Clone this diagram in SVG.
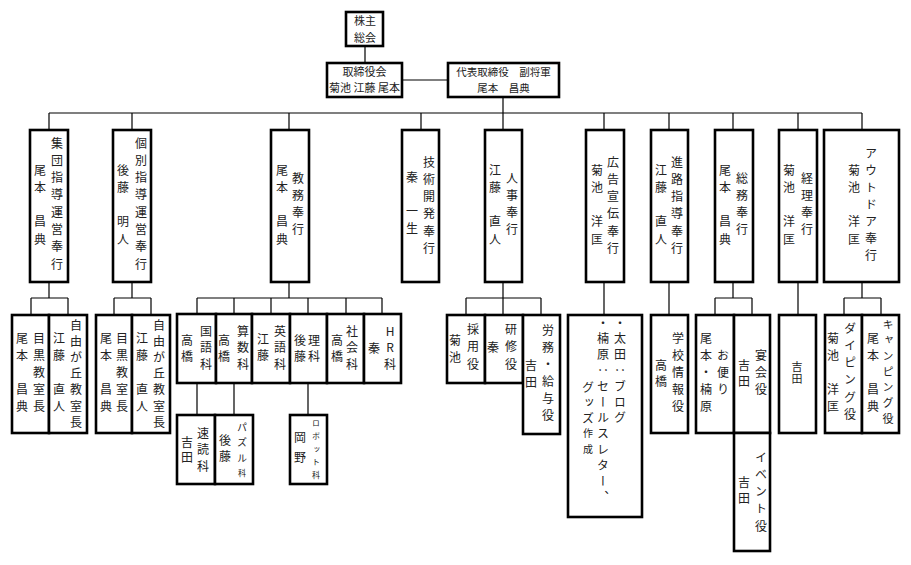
<svg xmlns="http://www.w3.org/2000/svg" width="911" height="565" viewBox="0 0 911 565">
<style>
.bx{fill:#fff;stroke:#000;stroke-width:2.6}
.ln{stroke:#000;stroke-width:1.2;fill:none}
text{font-family:"Noto Sans CJK JP","Noto Sans CJK SC",sans-serif;fill:#222}
.h{font-size:11px;text-anchor:middle;dominant-baseline:central}
.v{writing-mode:vertical-rl;font-size:12px;letter-spacing:5.3px}
.v2{writing-mode:vertical-rl;font-size:12px;letter-spacing:3.8px}
.up{text-orientation:upright}
</style>
<rect width="911" height="565" fill="#fff"/>
<g id="connectors">
<path class="ln" d="M365,46V63M402,80H448M503,97V130M49,113H862
M49,113V130M132,113V130M289,113V130M421,113V130M604,113V130M669,113V130M733,113V130M798,113V130M862,113V130
M49,282V298M31,298H68M31,298V315M68,298V315
M132,282V298M114,298H151M114,298V315M151,298V315
M289,282V298M197,298H382M197,298V314M234,298V314M271,298V314M308,298V314M346,298V314M382,298V314
M197,383V415M234,383V415M308,383V415
M503,282V298M466,298H541M466,298V315M503,298V315M541,298V315
M604,282V315M669,282V315
M733,282V298M715,298H752M715,298V315M752,298V315
M798,282V315
M862,282V298M844,298H881M844,298V315M881,298V315"/>
</g>
<g id="n-kabunushi"><rect class="bx" x="346" y="12" width="37" height="34"/>
<text class="h" x="365" y="20">株主</text><text class="h" x="365" y="37">総会</text></g>
<g id="n-torishimari"><rect class="bx" x="327" y="63" width="75" height="34"/>
<text class="h" x="364.5" y="71">取締役会</text><text class="h" x="364.5" y="87">菊池 江藤 尾本</text></g>
<g id="n-daihyo"><rect class="bx" x="448" y="63" width="111" height="34"/>
<text class="h" x="503.5" y="71" style="font-size:10.5px">代表取締役　副将軍</text><text class="h" x="503.5" y="87" style="font-size:10.5px">尾本　昌典</text></g>

<g id="n-shudan"><rect class="bx" x="30" y="130" width="38" height="152"/>
<text class="v" x="57" y="137">集団指導運営奉行</text><text class="v" x="40" y="164">尾本　昌典</text></g>
<g id="n-kobetsu"><rect class="bx" x="113" y="130" width="38" height="152"/>
<text class="v" x="141" y="137">個別指導運営奉行</text><text class="v" x="123" y="164">後藤　明人</text></g>
<g id="n-kyomu"><rect class="bx" x="271" y="130" width="38" height="152"/>
<text class="v" x="298" y="172">教務奉行</text><text class="v" x="282" y="164">尾本　昌典</text></g>
<g id="n-gijutsu"><rect class="bx" x="402" y="130" width="37" height="152"/>
<text class="v" x="429" y="156">技術開発奉行</text><text class="v" x="412" y="171">秦　一生</text></g>
<g id="n-jinji"><rect class="bx" x="485" y="130" width="37" height="152"/>
<text class="v" x="512" y="172">人事奉行</text><text class="v" x="495" y="164">江藤　直人</text></g>
<g id="n-koukoku"><rect class="bx" x="586" y="130" width="38" height="152"/>
<text class="v" x="613" y="156">広告宣伝奉行</text><text class="v" x="597" y="164">菊池　洋匡</text></g>
<g id="n-shinro"><rect class="bx" x="651" y="130" width="37" height="152"/>
<text class="v" x="677" y="156">進路指導奉行</text><text class="v" x="661" y="164">江藤　直人</text></g>
<g id="n-somu"><rect class="bx" x="715" y="130" width="38" height="152"/>
<text class="v" x="742" y="172">総務奉行</text><text class="v" x="725" y="164">尾本　昌典</text></g>
<g id="n-keiri"><rect class="bx" x="779" y="130" width="38" height="152"/>
<text class="v" x="807" y="172">経理奉行</text><text class="v" x="789" y="164">菊池　洋匡</text></g>
<g id="n-outdoor"><rect class="bx" x="824" y="130" width="75" height="152"/>
<text class="v" x="871" y="147" style="letter-spacing:5px">アウトドア奉行</text><text class="v" x="854" y="164">菊池　洋匡</text></g>

<g id="n-meguro1"><rect class="bx" x="12" y="315" width="37" height="118"/>
<text class="v" x="39" y="332" style="letter-spacing:5.2px">目黒教室長</text><text class="v" x="22" y="332" style="letter-spacing:5.2px">尾本　昌典</text></g>
<g id="n-jiyu1"><rect class="bx" x="49" y="315" width="38" height="118"/>
<text class="v" x="76" y="319" style="letter-spacing:4.2px">自由が丘教室長</text><text class="v" x="59" y="332" style="letter-spacing:5.2px">江藤　直人</text></g>
<g id="n-meguro2"><rect class="bx" x="96" y="315" width="36" height="118"/>
<text class="v" x="122" y="332" style="letter-spacing:5.2px">目黒教室長</text><text class="v" x="106" y="332" style="letter-spacing:5.2px">尾本　昌典</text></g>
<g id="n-jiyu2"><rect class="bx" x="132" y="315" width="38" height="118"/>
<text class="v" x="159" y="319" style="letter-spacing:4.2px">自由が丘教室長</text><text class="v" x="142" y="332" style="letter-spacing:5.2px">江藤　直人</text></g>

<g id="n-kokugo"><rect class="bx" x="177" y="314" width="39" height="69"/>
<text class="v" x="206" y="325" style="letter-spacing:4.5px">国語科</text><text class="v" x="187" y="334" style="letter-spacing:4.8px">高橋</text></g>
<g id="n-sansu"><rect class="bx" x="216" y="314" width="36" height="69"/>
<text class="v" x="243" y="325" style="letter-spacing:4.5px">算数科</text><text class="v" x="224" y="334" style="letter-spacing:4.8px">高橋</text></g>
<g id="n-eigo"><rect class="bx" x="252" y="314" width="38" height="69"/>
<text class="v" x="280" y="325" style="letter-spacing:4.5px">英語科</text><text class="v" x="263" y="333" style="letter-spacing:4.8px">江藤</text></g>
<g id="n-rika"><rect class="bx" x="290" y="314" width="37" height="69"/>
<text class="v" x="314" y="334" style="letter-spacing:4.8px">理科</text><text class="v" x="300" y="334" style="letter-spacing:4.8px">後藤</text></g>
<g id="n-shakai"><rect class="bx" x="327" y="314" width="37" height="69"/>
<text class="v" x="352" y="325" style="letter-spacing:4.5px">社会科</text><text class="v" x="337" y="334" style="letter-spacing:4.8px">高橋</text></g>
<g id="n-hr"><rect class="bx" x="364" y="314" width="37" height="69"/>
<text class="v up" x="390" y="325" style="letter-spacing:4.5px">HR科</text><text class="v" x="374" y="342">秦</text></g>

<g id="n-sokudoku"><rect class="bx" x="177" y="415" width="38" height="69"/>
<text class="v" x="203" y="427" style="letter-spacing:4.5px">速読科</text><text class="v" x="187" y="436" style="letter-spacing:3.5px">吉田</text></g>
<g id="n-puzzle"><rect class="bx" x="215" y="415" width="38" height="69"/>
<text class="v" x="242" y="422" style="font-size:10px;letter-spacing:5.5px">パズル<tspan style="font-size:8px">科</tspan></text><text class="v" x="225" y="434" style="letter-spacing:4px">後藤</text></g>
<g id="n-robot"><rect class="bx" x="290" y="415" width="37" height="69"/>
<text class="v" x="316" y="419" style="font-size:8px;letter-spacing:5px">ロボット科</text><text class="v" x="300" y="431" style="letter-spacing:8px">岡野</text></g>

<g id="n-saiyo"><rect class="bx" x="447" y="315" width="38" height="68"/>
<text class="v" x="473" y="323" style="letter-spacing:5.5px">採用役</text><text class="v" x="455" y="334" style="letter-spacing:5px">菊池</text></g>
<g id="n-kenshu"><rect class="bx" x="485" y="315" width="38" height="68"/>
<text class="v" x="511" y="323" style="letter-spacing:5.5px">研修役</text><text class="v" x="493" y="341">秦</text></g>
<g id="n-romu"><rect class="bx" x="523" y="315" width="37" height="119"/>
<text class="v" x="548" y="324" style="letter-spacing:5px">労務・給与役</text><text class="v" x="531" y="359" style="letter-spacing:5px">吉田</text></g>

<g id="n-koukoku-sub"><rect class="bx" x="568" y="315" width="74" height="202"/>
<text class="v2" x="620" y="317">・太田：ブログ</text>
<text class="v2" x="603" y="317">・楠原：セールスレター、</text>
<text class="v2" x="588" y="381">グッズ<tspan style="font-size:10px;letter-spacing:5.8px">作成</tspan></text></g>

<g id="n-gakko"><rect class="bx" x="651" y="315" width="37" height="118"/>
<text class="v" x="678" y="332" style="letter-spacing:5.2px">学校情報役</text><text class="v" x="661" y="359" style="letter-spacing:4px">高橋</text></g>
<g id="n-otayori"><rect class="bx" x="696" y="315" width="38" height="118"/>
<text class="v" x="723" y="349" style="letter-spacing:5.2px">お便り</text><text class="v" x="706" y="332" style="letter-spacing:5.2px">尾本・楠原</text></g>
<g id="n-enkai"><rect class="bx" x="734" y="315" width="36" height="118"/>
<text class="v" x="761" y="349" style="letter-spacing:5.2px">宴会役</text><text class="v" x="744" y="359" style="letter-spacing:4px">吉田</text></g>
<g id="n-event"><rect class="bx" x="734" y="433" width="36" height="118"/>
<text class="v" x="761" y="451" style="letter-spacing:5.3px">イベント役</text><text class="v" x="744" y="476" style="letter-spacing:4px">吉田</text></g>
<g id="n-keiri-sub"><rect class="bx" x="779" y="315" width="37" height="118"/>
<text class="v" x="797" y="361" style="font-size:11px;letter-spacing:1px">吉田</text></g>
<g id="n-diving"><rect class="bx" x="825" y="315" width="37" height="118"/>
<text class="v" x="850" y="322" style="letter-spacing:5.3px">ダイピング役</text><text class="v" x="833" y="332" style="letter-spacing:5.2px">菊池　洋匡</text></g>
<g id="n-camping"><rect class="bx" x="862" y="315" width="37" height="118"/>
<text class="v" x="888" y="319" style="font-size:11px;letter-spacing:4.7px">キャンピング役</text><text class="v" x="873" y="332" style="letter-spacing:5.2px">尾本　昌典</text></g>
</svg>
